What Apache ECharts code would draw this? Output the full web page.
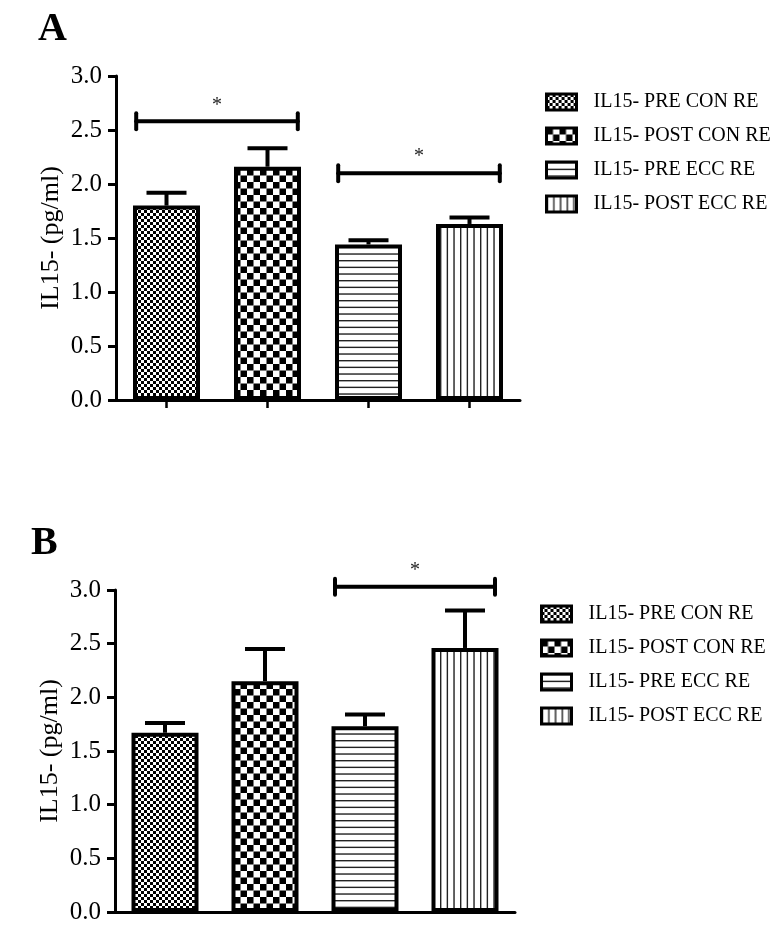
<!DOCTYPE html>
<html><head><meta charset="utf-8">
<script src="https://cdn.jsdelivr.net/npm/echarts@6/dist/echarts.min.js"></script>
<style>html,body{margin:0;padding:0;background:#fff}#c{width:773px;height:939px}</style>
</head><body><div id="c"></div>
<script>
const categories = ['IL15- PRE CON RE','IL15- POST CON RE','IL15- PRE ECC RE','IL15- POST ECC RE'];
const yTicks = [0, 0.5, 1.0, 1.5, 2.0, 2.5, 3.0];
const yAxisName = 'IL15- (pg/ml)';
const panelLabels = ['A', 'B'];
const meansA = [1.80, 2.16, 1.44, 1.63];
const errA   = [0.12, 0.17, 0.04, 0.06];
const meansB = [1.67, 2.15, 1.73, 2.46];
const errB   = [0.09, 0.30, 0.11, 0.35];
// significance brackets: [from category, to category, y level]
const sigA = [[0, 1, 2.58], [2, 3, 2.10]];
const sigB = [[2, 3, 3.03]];

const FONT = "'Liberation Serif', 'Times New Roman', serif";

function makePattern(kind) {
  const c = document.createElement('canvas');
  let s;
  if (kind === 'fine') { s = 6; }
  else if (kind === 'coarse') { s = 13; }
  else { s = 20; }
  c.width = s; c.height = s;
  const g = c.getContext('2d');
  g.fillStyle = '#fff'; g.fillRect(0, 0, s, s);
  g.fillStyle = '#000';
  if (kind === 'fine') {
    g.fillRect(0, 0, 3, 3); g.fillRect(3, 3, 3, 3);
  } else if (kind === 'coarse') {
    g.fillRect(0, 0, 6.5, 6.5); g.fillRect(6.5, 6.5, 6.5, 6.5);
  } else if (kind === 'h') {
    g.fillStyle = '#222';
    for (let k = 0; k < 3; k++) g.fillRect(0, k * 20 / 3, s, 1.4);
  } else if (kind === 'v') {
    g.fillStyle = '#222';
    for (let k = 0; k < 3; k++) g.fillRect(k * 20 / 3, 0, 1.4, s);
  }
  return { image: c, repeat: 'repeat' };
}
const patterns = [makePattern('fine'), makePattern('coarse'), makePattern('h'), makePattern('v')];

function barSeries(means, gi) {
  return categories.map((name, i) => ({
    name: name,
    type: 'bar',
    xAxisIndex: gi, yAxisIndex: gi,
    stack: 'g' + gi,
    barWidth: 67,
    data: categories.map((_, j) => j === i ? means[i] : '-'),
    itemStyle: { color: patterns[i], borderColor: '#000', borderWidth: 4 },
    emphasis: { disabled: true },
    z: 2
  }));
}

function errSeries(means, errs, gi) {
  return {
    type: 'custom', xAxisIndex: gi, yAxisIndex: gi, z: 3, silent: true,
    data: means.map((m, i) => [i, m, m + errs[i]]),
    encode: { x: 0, y: [1, 2] },
    renderItem: function (params, api) {
      const p0 = api.coord([api.value(0), api.value(1)]);
      const p1 = api.coord([api.value(0), api.value(2)]);
      const st = { stroke: '#000', lineWidth: 4 };
      return { type: 'group', children: [
        { type: 'line', shape: { x1: p0[0], y1: p0[1], x2: p1[0], y2: p1[1] }, style: st },
        { type: 'line', shape: { x1: p1[0] - 20, y1: p1[1], x2: p1[0] + 20, y2: p1[1] }, style: st }
      ]};
    }
  };
}

function sigSeries(sig, gi) {
  return {
    type: 'custom', xAxisIndex: gi, yAxisIndex: gi, z: 3, silent: true, clip: false,
    data: sig,
    encode: { x: [0, 1], y: 2 },
    renderItem: function (params, api) {
      const a = api.coord([api.value(0), api.value(2)]);
      const b = api.coord([api.value(1), api.value(2)]);
      const w = api.size([1, 0])[0];
      const l = a[0] - 0.3 * w, r = b[0] + 0.3 * w, y = a[1];
      const st = { stroke: '#000', lineWidth: 4, lineCap: 'round' };
      return { type: 'group', children: [
        { type: 'line', shape: { x1: l, y1: y, x2: r, y2: y }, style: st },
        { type: 'line', shape: { x1: l, y1: y - 8, x2: l, y2: y + 8 }, style: st },
        { type: 'line', shape: { x1: r, y1: y - 8, x2: r, y2: y + 8 }, style: st },
        { type: 'text', style: { text: '*', x: (l + r) / 2, y: y - 16, align: 'center', verticalAlign: 'middle',
            font: '20px ' + FONT, fill: '#222' } }
      ]};
    }
  };
}

function yAxis(gi) {
  return {
    type: 'value', gridIndex: gi, min: 0, max: 3, interval: 0.5,
    name: yAxisName, nameLocation: 'middle', nameGap: 52, nameMoveOverlap: false,
    nameTextStyle: { fontFamily: FONT, fontSize: 26, color: '#000' },
    axisLine: { show: true, lineStyle: { color: '#000', width: 3 } },
    axisTick: { show: true, length: 8, lineStyle: { color: '#000', width: 3 } },
    axisLabel: { margin: 14, fontFamily: FONT, fontSize: 25, color: '#000',
      formatter: v => yTicks.indexOf(v) >= 0 ? v.toFixed(1) : '' },
    splitLine: { show: false }
  };
}
function xAxis(gi, ticks) {
  return {
    type: 'category', gridIndex: gi, data: categories,
    axisLine: { show: true, lineStyle: { color: '#000', width: 3 } },
    axisTick: { show: ticks, interval: 0, alignWithLabel: true, length: 8, lineStyle: { color: '#000', width: 2.5 } },
    axisLabel: { show: false, interval: 0 }
  };
}
function legend(top, left) {
  return {
    data: categories, orient: 'vertical', top: top, left: left,
    itemWidth: 30, itemHeight: 16, itemGap: 14, icon: 'rect',
    itemStyle: { borderColor: '#000', borderWidth: 3 },
    textStyle: { fontFamily: FONT, fontSize: 20, color: '#000', padding: [0, 0, 0, 12] },
    selectedMode: false
  };
}

const chart = echarts.init(document.getElementById('c'), null, { renderer: 'canvas' });
chart.setOption({
  backgroundColor: '#fff',
  animation: false,
  grid: [
    { left: 116, top: 76, width: 404, height: 324 },
    { left: 115, top: 590, width: 400, height: 322 }
  ],
  xAxis: [xAxis(0, true), xAxis(1, false)],
  yAxis: [yAxis(0), yAxis(1)],
  legend: [legend(87, 540), legend(599, 535)],
  graphic: [
    { type: 'text', left: 38, top: 10, style: { text: panelLabels[0], font: 'bold 40px ' + FONT, fill: '#000' } },
    { type: 'text', left: 31, top: 524, style: { text: panelLabels[1], font: 'bold 40px ' + FONT, fill: '#000' } }
  ],
  series: [].concat(
    barSeries(meansA, 0), [errSeries(meansA, errA, 0), sigSeries(sigA, 0)],
    barSeries(meansB, 1), [errSeries(meansB, errB, 1), sigSeries(sigB, 1)]
  )
});
</script>
</body></html>
